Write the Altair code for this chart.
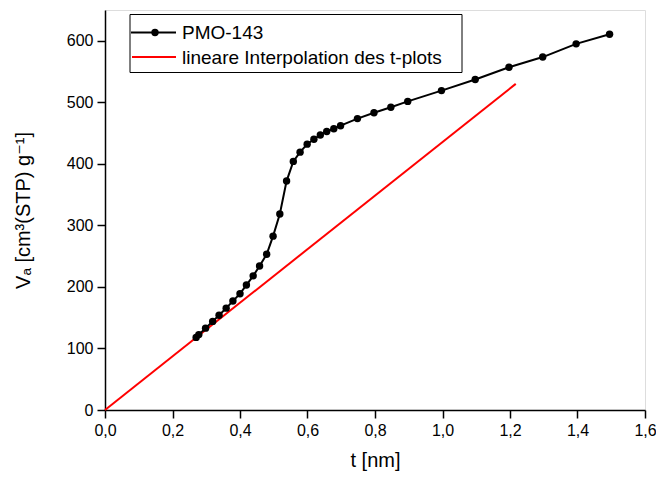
import altair as alt
import pandas as pd

# data
t_nm = [0.27, 0.278, 0.298, 0.319, 0.338, 0.359, 0.379, 0.40, 0.419, 0.439, 0.458, 0.479,
        0.498, 0.518, 0.538, 0.558, 0.578, 0.599, 0.619, 0.638, 0.657, 0.678, 0.698,
        0.748, 0.797, 0.847, 0.897, 0.997, 1.097, 1.197, 1.297, 1.396, 1.495]
va = [118, 122.5, 133, 144, 154, 165.5, 177, 189, 203, 218, 234, 253,
      282.5, 318.5, 372, 404, 419, 432, 440, 447, 452.5, 457, 462,
      473.5, 483, 492, 501.5, 519, 537, 557, 573.5, 595, 610.5]
fit_t = [0.0, 1.217]
fit_v = [0.0, 530.0]

series_name = "PMO-143"
fit_name = "lineare Interpolation des t-plots"
x_ticks = [round(i * 0.1, 1) for i in range(17)]
y_ticks = list(range(0, 651, 50))

df = pd.DataFrame({"t": t_nm, "v": va})
df_fit = pd.DataFrame({"t": fit_t, "v": fit_v})

FONT = "Liberation Sans, Arial, DejaVu Sans"

xscale = alt.Scale(domain=[0, 1.6], nice=False, zero=False)
yscale = alt.Scale(domain=[0, 650], nice=False, zero=False)

xaxis = alt.Axis(
    title="t [nm]", values=x_ticks,
    labelExpr="(round(datum.value*10) % 2 == 0) ? replace(format(datum.value, '.1f'), '.', ',') : ''",
    tickSize={"condition": {"test": "round(datum.value*10) % 2 == 0", "value": 8}, "value": 4},
    grid=False, domainColor="black", tickColor="black", domainWidth=1.5, tickWidth=1.5,
    labelColor="black", titleColor="black", labelFont=FONT, titleFont=FONT,
    labelFontSize=16, titleFontSize=20, titleFontWeight="normal", labelPadding=4,
    titlePadding=12, labelFlush=False, labelOverlap=False,
)
yaxis = alt.Axis(
    title="Vₐ [cm³(STP) g⁻¹]", values=y_ticks,
    labelExpr="(datum.value % 100 == 0) ? format(datum.value, 'd') : ''",
    tickSize={"condition": {"test": "datum.value % 100 == 0", "value": 8}, "value": 4},
    grid=False, domainColor="black", tickColor="black", domainWidth=1.5, tickWidth=1.5,
    labelColor="black", titleColor="black", labelFont=FONT, titleFont=FONT,
    labelFontSize=16, titleFontSize=20, titleFontWeight="normal", labelPadding=4,
    titlePadding=33, labelFlush=False, labelOverlap=False,
)

fit = alt.Chart(df_fit).mark_line(color="red", strokeWidth=2).encode(
    x=alt.X("t:Q", scale=xscale, axis=xaxis),
    y=alt.Y("v:Q", scale=yscale, axis=yaxis),
)
line = alt.Chart(df).mark_line(color="black", strokeWidth=2).encode(
    x=alt.X("t:Q", scale=xscale), y=alt.Y("v:Q", scale=yscale)
)
pts = alt.Chart(df).mark_point(filled=True, color="black", size=55, opacity=1).encode(
    x=alt.X("t:Q", scale=xscale), y=alt.Y("v:Q", scale=yscale)
)

# manual legend
leg_box = alt.Chart().mark_rect(fill="white", stroke="black", strokeWidth=1).encode(
    x=alt.value(25), x2=alt.value(357), y=alt.value(4.5), y2=alt.value(62.5)
)
leg_l1 = alt.Chart().mark_rule(color="black", strokeWidth=2).encode(
    x=alt.value(26), x2=alt.value(71), y=alt.value(22.5)
)
leg_p1 = alt.Chart().mark_point(filled=True, color="black", size=55, opacity=1).encode(
    x=alt.value(50), y=alt.value(22.5)
)
leg_t1 = alt.Chart().mark_text(text=series_name, align="left", baseline="middle",
                               font=FONT, fontSize=19, color="black").encode(
    x=alt.value(77), y=alt.value(23)
)
leg_l2 = alt.Chart().mark_rule(color="red", strokeWidth=2).encode(
    x=alt.value(27), x2=alt.value(71), y=alt.value(47)
)
leg_t2 = alt.Chart().mark_text(text=fit_name, align="left", baseline="middle",
                               font=FONT, fontSize=19, color="black").encode(
    x=alt.value(77), y=alt.value(47.5)
)

chart = alt.layer(fit, line, pts, leg_box, leg_l1, leg_p1, leg_t1, leg_l2, leg_t2).properties(
    width=540, height=400,
    autosize=alt.AutoSizeParams(type="none"),
    padding={"left": 97, "top": 2, "right": 11, "bottom": 63},
).configure_view(stroke=None).configure(background="white")

chart.save("out.html", embed_options={"renderer": "svg", "actions": False})
